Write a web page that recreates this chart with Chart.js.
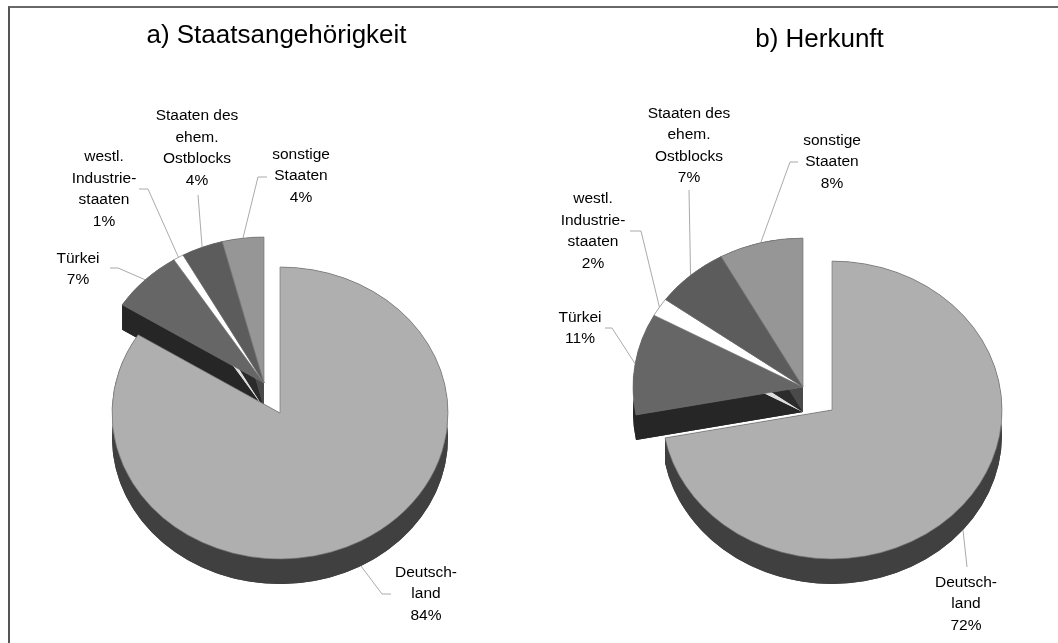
<!DOCTYPE html>
<html><head><meta charset="utf-8">
<script src="https://cdn.jsdelivr.net/npm/chart.js@4"></script>
<style>
html,body{margin:0;padding:0;background:#fff;overflow:hidden;}
#wrap{position:relative;width:1058px;height:643px;overflow:hidden;background:#fff;}
#frame{position:absolute;left:8px;top:6px;width:1300px;height:900px;border-top:2px solid #686868;border-left:2px solid #555;}
canvas{position:absolute;top:0;}
</style></head><body>
<div id="wrap"><div id="frame"></div>
<canvas id="ca" width="529" height="643" style="left:0;width:529px;height:643px"></canvas>
<canvas id="cb" width="529" height="643" style="left:529px;width:529px;height:643px"></canvas>
</div>
<script>
// ---- data ----
const categories = [['Deutsch-','land'], ['Türkei'], ['westl.','Industrie-','staaten'], ['Staaten des','ehem.','Ostblocks'], ['sonstige','Staaten']];
const staatsValues = [84, 7, 1, 4, 4];
const herkunftValues = [72, 11, 2, 7, 8];
const titles = ['a) Staatsangehörigkeit', 'b) Herkunft'];

// ---- styles ----
const FONT = '"Liberation Sans", Arial, sans-serif';
const sliceColors = ['#afafaf', '#666666', '#ffffff', '#5c5c5c', '#969696'];
const sideColors  = ['#404040', '#262626', '#dddddd', '#2b2b2b', '#4a4a4a'];

const pie3d = {
  id: 'pie3d',
  beforeDatasetDraw(chart, args, opts) {
    const ctx = chart.ctx;
    const els = args.meta.data;
    const k = opts.tilt, depth = opts.depth;
    const cy = els[0].y;
    const gx = opts.explode.x, gy = opts.explode.y / k;
    const group = els.map((e, i) => i).filter(i => i > 0);
    ctx.save();
    ctx.translate(0, cy); ctx.scale(1, k); ctx.translate(0, -cy);
    const side = (i, dx, dy) => {
      const e = els[i];
      const D = depth / k, r = e.outerRadius, s = e.startAngle, en = e.endAngle;
      const x = e.x, y = e.y;
      const ps = [x + r * Math.cos(s), y + r * Math.sin(s)];
      const pe = [x + r * Math.cos(en), y + r * Math.sin(en)];
      ctx.save(); ctx.translate(dx, dy);
      ctx.fillStyle = opts.sideColors[i];
      // bottom face
      ctx.beginPath(); ctx.moveTo(x, y + D); ctx.arc(x, y + D, r, s, en); ctx.closePath(); ctx.fill();
      // radial cut faces
      [ps, pe].forEach(p => {
        ctx.beginPath(); ctx.moveTo(x, y); ctx.lineTo(p[0], p[1]); ctx.lineTo(p[0], p[1] + D); ctx.lineTo(x, y + D); ctx.closePath(); ctx.fill();
      });
      // outer rim band
      ctx.beginPath(); ctx.arc(x, y, r, s, en); ctx.lineTo(pe[0], pe[1] + D); ctx.arc(x, y + D, r, en, s, true); ctx.closePath(); ctx.fill();
      ctx.restore();
    };
    const top = (i, dx, dy) => { ctx.save(); ctx.translate(dx, dy); els[i].draw(ctx, chart.chartArea); ctx.restore(); };
    group.forEach(i => side(i, gx, gy));
    group.forEach(i => top(i, gx, gy));
    side(0, 0, 0); top(0, 0, 0);
    ctx.restore();
    return false;
  },
  afterDraw(chart, args, opts) {
    const ctx = chart.ctx;
    const els = chart.getDatasetMeta(0).data;
    const values = chart.data.datasets[0].data;
    const total = values.reduce((a, b) => a + b, 0);
    const k = opts.tilt, depth = opts.depth;
    const cx = els[0].x, cy = els[0].y;
    ctx.save();
    ctx.fillStyle = '#000';
    ctx.textAlign = 'center';
    ctx.font = opts.titleSize + 'px ' + FONT;
    ctx.textBaseline = 'alphabetic';
    ctx.fillText(opts.title, cx + opts.titlePos[0], cy + opts.titlePos[1]);
    ctx.font = opts.labelSize + 'px ' + FONT;
    ctx.textBaseline = 'middle';
    els.forEach((e, i) => {
      const mid = (e.startAngle + e.endAngle) / 2;
      const ox = i > 0 ? opts.explode.x : 0, oy = i > 0 ? opts.explode.y : 0;
      let ax = e.x + ox + e.outerRadius * Math.cos(mid);
      let ay = cy + oy + k * e.outerRadius * Math.sin(mid);
      if (Math.sin(mid) > 0) ay += depth;
      const L = opts.labels[i];
      ctx.strokeStyle = '#a0a0a0'; ctx.lineWidth = 0.9;
      ctx.beginPath(); ctx.moveTo(ax, ay);
      L.path.forEach(p => ctx.lineTo(cx + p[0], cy + p[1]));
      ctx.stroke();
      const lines = [...chart.data.labels[i], Math.round(values[i] / total * 100) + '%'];
      const lh = opts.lineHeight;
      const ty0 = cy + L.text[1] - (lines.length - 1) * lh / 2;
      lines.forEach((t, j) => ctx.fillText(t, cx + L.text[0], ty0 + j * lh));
    });
    ctx.restore();
  }
};

function makeChart(id, values, cfg) {
  const W = 529, H = 643;
  return new Chart(document.getElementById(id), {
    type: 'pie',
    data: {
      labels: categories,
      datasets: [{ data: values, backgroundColor: sliceColors, borderColor: '#737373', borderWidth: 0.7 }]
    },
    options: {
      responsive: false, animation: false, events: [],
      radius: cfg.r,
      layout: { padding: { left: cfg.cx - cfg.r, right: W - cfg.cx - cfg.r, top: cfg.cy - cfg.r, bottom: H - cfg.cy - cfg.r } },
      plugins: {
        legend: { display: false }, tooltip: { enabled: false },
        pie3d: {
          tilt: cfg.tilt, depth: 25, explode: cfg.explode, sideColors: sideColors,
          title: cfg.title, titleSize: 26, titlePos: cfg.titlePos,
          labelSize: 15.5, lineHeight: 21.5, labels: cfg.labels
        }
      }
    },
    plugins: [pie3d]
  });
}

makeChart('ca', staatsValues, {
  cx: 280, cy: 413, r: 168, tilt: 0.869, explode: { x: -16, y: -30 },
  title: titles[0], titlePos: [-3.5, -370],
  labels: [
    { path: [[102, 181], [111, 181]], text: [146, 181] },
    { path: [[-162, -145], [-170, -145]], text: [-202, -144] },
    { path: [[-132, -224], [-141, -224]], text: [-176, -224] },
    { path: [[-82, -218]], text: [-83, -265] },
    { path: [[-22, -236], [-13, -236]], text: [21, -237] }
  ]
});

makeChart('cb', herkunftValues, {
  cx: 303, cy: 410, r: 170, tilt: 0.876, explode: { x: -29, y: -23 },
  title: titles[1], titlePos: [-12.5, -363],
  labels: [
    { path: [[135, 157]], text: [134, 194] },
    { path: [[-220, -82], [-227, -82]], text: [-252, -82] },
    { path: [[-191, -179], [-202, -179]], text: [-239, -179] },
    { path: [[-143, -220]], text: [-143, -264.5] },
    { path: [[-42, -248], [-34, -248]], text: [0, -248] }
  ]
});
</script>
</body></html>
